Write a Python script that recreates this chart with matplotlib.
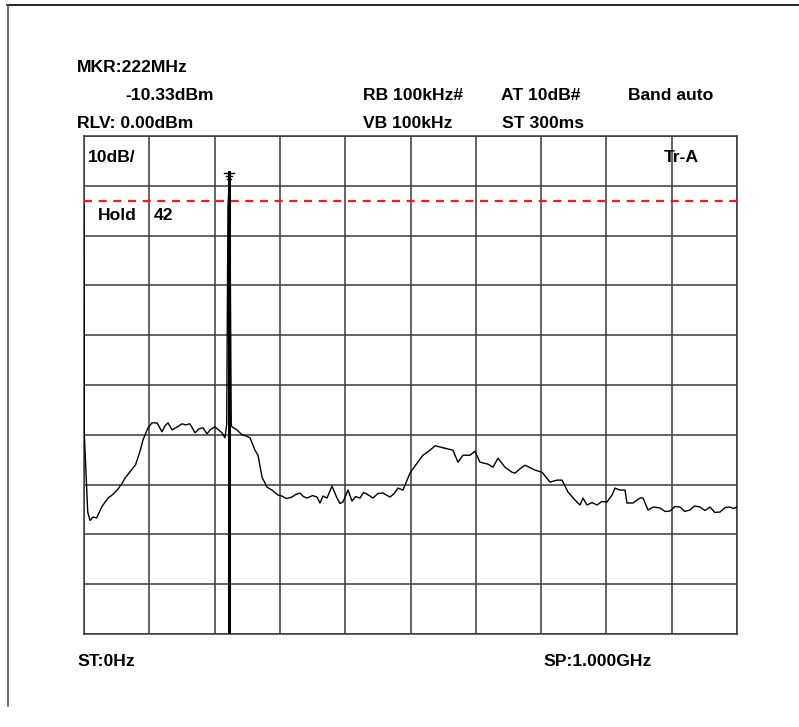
import matplotlib
matplotlib.use("Agg")
import matplotlib.pyplot as plt
from matplotlib.lines import Line2D

plt.rcParams['font.family'] = ['Liberation Sans', 'DejaVu Sans']

# ---- data ----
freq_mhz = [0, 0.5, 5.7, 9.2, 14, 19.4, 27, 36.8, 44, 52.1, 58, 62.8, 70, 75.0, 79, 82.7, 86, 90.4,
            98.0, 104.1, 111.8, 119.4, 124, 128.6, 134.8, 142, 150.1, 156, 162.3, 170.0, 176,
            182.2, 188.4, 194, 200.6, 206, 211.3, 215.9, 218.5, 220.5, 222, 223.5, 225.5,
            226.6, 234, 242.0, 248, 254.2, 261.9, 266.5, 272.6, 280.2, 287.9, 297.1, 303.2,
            310, 318.5, 324, 330.8, 336, 341.5, 350, 356.8, 361.4, 366, 372.1, 379.8, 387.4,
            392, 396.6, 404.3, 410.4, 416, 422.7, 428, 433.4, 442.6, 450, 457.9, 468.6, 475,
            480.9, 488.5, 499.2, 510.0, 519.1, 529.9, 537.5, 549.8, 565.1, 572.7, 580.4, 591.1,
            598.8, 606.4, 618.7, 626.3, 634.0, 644.7, 655.4, 660.0, 668, 675.3, 683, 690.7,
            701.4, 713.6, 724.3, 732.0, 741.2, 751.9, 759.6, 764.2, 770.3, 778, 785.6, 793,
            800.9, 808.6, 813.2, 820.8, 828.5, 831.5, 840.7, 851.5, 856.1, 863.7, 872, 882.1,
            890, 897.4, 905, 912.7, 920, 928.0, 935, 943.3, 951, 958.7, 966, 974.0, 982, 989.3,
            995, 1000]
level_dbm = [-14.0, -60.0, -75.5, -77.2, -76.5, -76.7, -74.5, -72.7, -72.0, -70.9, -69.8, -68.7,
             -67.5, -66.7, -66.0, -64.5, -63.2, -61.0, -58.6, -57.6, -57.6, -59.4, -58.2, -57.6,
             -59.0, -58.5, -57.8, -58.0, -57.8, -59.6, -58.8, -58.6, -59.8, -58.9, -58.4, -59.0,
             -59.6, -60.6, -58.0, -14.0, -10.33, -16.0, -58.0, -58.4, -59.0, -60.0, -60.2,
             -60.6, -63.1, -64.1, -68.5, -70.5, -71.1, -72.1, -72.3, -72.8, -72.5, -72.0,
             -71.7, -72.4, -72.7, -72.2, -72.5, -73.7, -72.3, -72.7, -70.3, -72.7, -73.8,
             -73.5, -71.1, -73.3, -72.4, -72.7, -71.6, -71.9, -72.7, -71.8, -71.7, -72.5,
             -71.8, -70.7, -71.1, -67.7, -65.7, -64.1, -63.1, -62.2, -62.6, -63.1, -65.5, -64.1,
             -64.1, -63.3, -65.5, -65.9, -66.5, -64.7, -66.5, -67.5, -67.7, -66.8, -66.1,
             -66.6, -67.1, -67.5, -69.5, -69.1, -69.1, -71.5, -73.1, -74.1, -72.7, -74.1,
             -73.6, -74.1, -73.4, -73.5, -72.1, -70.7, -71.1, -71.1, -73.7, -73.7, -72.7,
             -72.7, -75.1, -74.5, -74.7, -75.4, -75.3, -74.4, -74.5, -75.4, -75.1, -74.3,
             -74.5, -75.2, -74.5, -75.6, -75.5, -74.6, -74.5, -74.8, -74.5]

marker_freq = 222
marker_level = -10.33
threshold_dbm = -13

header_left = ["MKR:222MHz", "-10.33dBm", "RLV: 0.00dBm"]
header_right_row1 = ["RB 100kHz#", "AT 10dB#", "Band auto"]
header_right_row2 = ["VB 100kHz", "ST 300ms"]
start_label = "ST:0Hz"
stop_label = "SP:1.000GHz"

W, H = 799, 727
fig = plt.figure(figsize=(W / 100, H / 100), dpi=100)

def fx(px):
    return px / W

def fy(py):
    return 1 - py / H

ax = fig.add_axes([fx(84), fy(634), fx(737) - fx(84), fy(136) - fy(634)])
ax.set_xlim(0, 1000)
ax.set_ylim(-100, 0)
ax.set_xticks(range(0, 1001, 100))
ax.set_yticks(range(-100, 1, 10))
ax.tick_params(left=False, bottom=False, labelleft=False, labelbottom=False)
ax.grid(True, color='#3a3a3a', lw=1.1)
for s in ax.spines.values():
    s.set_color('#3a3a3a')
    s.set_linewidth(1.1)

# trace
ax.plot(freq_mhz, level_dbm, color='black', lw=1.0, zorder=3)
# threshold line
ax.plot([0, 1005], [threshold_dbm, threshold_dbm], color='#e8201c', lw=1.6,
        ls=(0, (3.6, 3.0)), clip_on=False, zorder=4)
# marker line
ax.plot([marker_freq, marker_freq], [-100, -7.2], color='black', lw=2.2, zorder=5)
for dy, hw in [(-7.4, 7), (-8.0, 5), (-8.6, 3.5)]:
    ax.plot([marker_freq - hw, marker_freq + hw], [dy, dy], color='black', lw=1.0, zorder=5)

fs = 12.6
def t(px, py, s, **kw):
    fig.text(fx(px), fy(py), s, fontsize=fs, fontweight='bold', va='center', ha='left', **kw)

t(77, 68, header_left[0])
t(125, 95, header_left[1])
t(77, 123, header_left[2])
for x, s in zip([363, 501, 628], header_right_row1):
    t(x, 95, s)
for x, s in zip([363, 502], header_right_row2):
    t(x, 123, s)
t(88, 157, "10dB/")
t(664, 157, "Tr-A")
t(98, 216, "Hold")
t(154, 216, "42")
t(77, 661, start_label)
t(543, 661, stop_label)

# outer frame lines
fig.add_artist(Line2D([fx(7), fx(799)], [fy(4.5), fy(4.5)], color='black', lw=1.2))
fig.add_artist(Line2D([fx(7.5), fx(7.5)], [fy(4.5), fy(706)], color='#555555', lw=1.2))

fig.savefig("out.png", dpi=100)
